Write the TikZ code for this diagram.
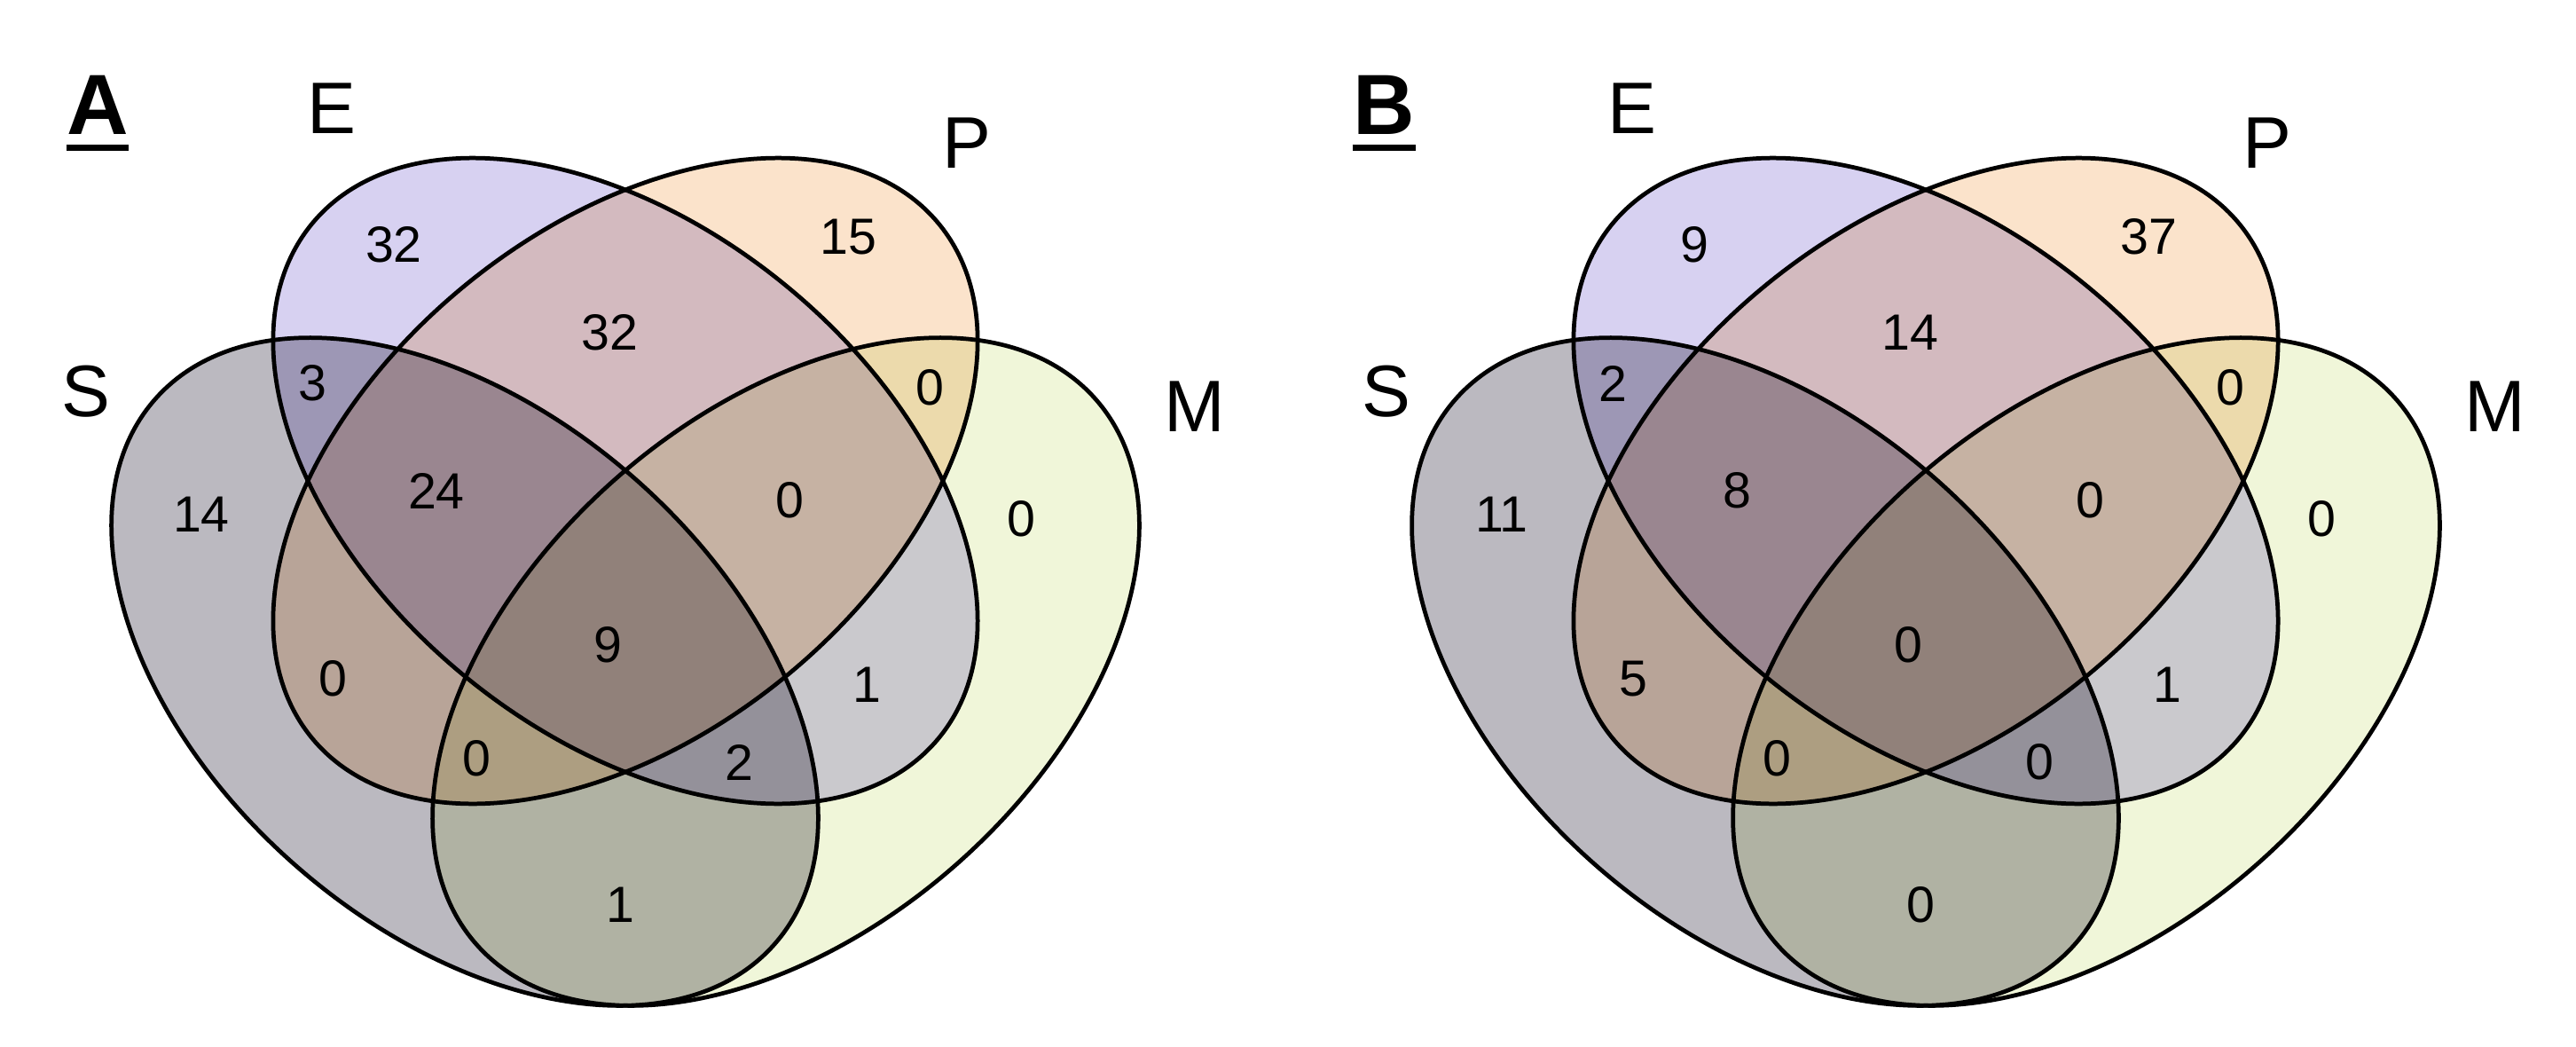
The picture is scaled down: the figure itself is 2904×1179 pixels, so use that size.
\documentclass[tikz,border=0pt]{standalone}
\usepackage{fontspec}
\setmainfont{Liberation Sans}
\usepackage{xcolor}
\definecolor{setS}{RGB}{187,185,192}
\definecolor{setE}{RGB}{215,209,241}
\definecolor{setP}{RGB}{251,227,203}
\definecolor{setM}{RGB}{240,246,217}
% centre x / centre y / angle / radii / colour of the four sets
\newcommand\vennsets{524/757/-41.3/465/290/setS,886/757/41.3/465/290/setM,705/542/-39.3/457/285/setE,705/542/39.3/457/285/setP}

\begin{document}
\begin{tikzpicture}[
    x=.01cm,y=-.01cm,
    rim/.style={line width=1.35pt,black},
    num/.style={inner sep=0pt,font=\fontsize{16.3}{18}\selectfont},
    setlbl/.style={inner sep=0pt,font=\fontsize{23.4}{26}\selectfont},
    tag/.style={inner sep=0pt,anchor=base,font=\fontsize{27.4}{30}\selectfont\bfseries}
  ]
  \fill[white] (0,0) rectangle (2904,1179);
  \useasboundingbox (0,0) rectangle (2904,1179);
  \foreach \dx/\tg/\tx in {0/A/110,1466/B/1560} {
    \begin{scope}[blend group=multiply]
      \foreach \cx/\cy/\ang/\ra/\rb/\col in \vennsets
        {\fill[\col,rotate around={\ang:(\cx+\dx,\cy)}] (\cx+\dx,\cy) ellipse [x radius=\ra,y radius=\rb];}
    \end{scope}
    \foreach \cx/\cy/\ang/\ra/\rb/\col in \vennsets
      {\draw[rim,rotate around={\ang:(\cx+\dx,\cy)}] (\cx+\dx,\cy) ellipse [x radius=\ra,y radius=\rb];}
    \foreach \lx/\ly/\s in {374/122/E,1090/161/P,97/441/S,1347/458/M}
      {\node[setlbl] (\s\tg) at (\lx+\dx,\ly) {\s};}
    \node[tag] (tag\tg) at (\tx,152) {\tg};
    \draw[line width=2pt] ([yshift=-4.1pt]tag\tg.base west) -- ([yshift=-4.1pt]tag\tg.base east);
  }
  % region counts, panel A / panel B
  \foreach \x/\y/\va/\vb [count=\i] in {444/276/32/9,956/267/15/37,687/375/32/14,
      352/432/3/2,1048/437/0/0,227/580/14/11,492/553/24/8,890/564/0/0,1151/585/0/0,
      685/727/9/0,375/765/0/5,977/772/1/1,537/855/0/0,833/859/2/0,699/1020/1/0} {
    \node[num] (nA\i) at (\x,\y) {\va};
    \node[num] (nB\i) at (\x+1466,\y) {\vb};
  }
\end{tikzpicture}
\end{document}
